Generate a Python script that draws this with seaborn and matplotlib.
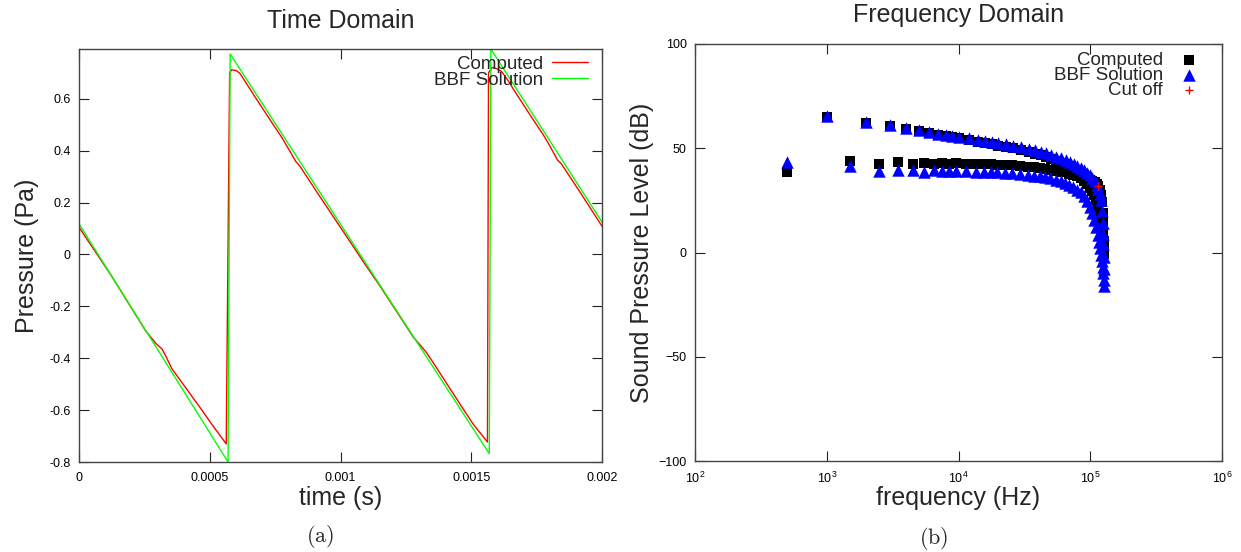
import numpy as np
import matplotlib
matplotlib.use("Agg")
import matplotlib.pyplot as plt
from matplotlib.ticker import NullLocator
import seaborn as sns

# ---- time domain: pressure (Pa) vs time (s) ----
time_comp = [0, 0.00012, 0.000256, 0.000295, 0.000318, 0.000332, 0.000355, 0.00047,
             0.000508, 0.000563, 0.000576, 0.000584, 0.000603, 0.000616, 0.00064,
             0.000667, 0.00073, 0.000775, 0.000795, 0.00083, 0.000845, 0.000922,
             0.001024, 0.0011, 0.00115, 0.001278, 0.001317, 0.00133, 0.001355,
             0.00147, 0.001508, 0.001562, 0.001566, 0.00158, 0.0016, 0.001616,
             0.00164, 0.001667, 0.00173, 0.001775, 0.001795, 0.00183, 0.001845,
             0.001922, 0.002]
pres_comp = [0.105, -0.076, -0.296, -0.344, -0.365, -0.392, -0.440, -0.600,
             -0.655, -0.730, 0.70, 0.712, 0.708, 0.697, 0.660,
             0.617, 0.520, 0.452, 0.418, 0.357, 0.340, 0.222,
             0.068, -0.047, -0.120, -0.318, -0.364, -0.380, -0.418,
             -0.597, -0.655, -0.723, 0.70, 0.721, 0.715, 0.705,
             0.672, 0.628, 0.530, 0.462, 0.428, 0.364, 0.349,
             0.231, 0.109]
time_bbf = [0, 0.00057, 0.000578, 0.001569, 0.001575, 0.002]
pres_bbf = [0.118, -0.80, 0.773, -0.768, 0.792, 0.125]

time_ticks = [0, 0.0005, 0.001, 0.0015, 0.002]
time_tick_labels = ["0", "0.0005", "0.001", "0.0015", "0.002"]
pres_ticks = [-0.8, -0.6, -0.4, -0.2, 0, 0.2, 0.4, 0.6]
pres_tick_labels = ["-0.8", "-0.6", "-0.4", "-0.2", "0", "0.2", "0.4", "0.6"]

# ---- frequency domain: SPL (dB) vs frequency (kHz) ----
freq_even = [1, 2, 3, 4, 5, 6, 7, 8, 9, 10,
             12, 14, 16, 18, 20,
             23, 26, 30, 34, 38, 42, 46, 50,
             55, 60, 65, 70, 75, 80, 85, 90, 95, 100,
             104, 108, 112, 115, 118, 120, 122, 124, 125, 126, 127, 128]
spl_bbf_even = [65.5, 62.8, 61.0, 59.6, 58.6, 57.7, 57.0, 56.5, 56.0, 55.6,
                54.8, 54.0, 53.4, 52.9, 52.4,
                51.8, 51.2, 50.4, 49.7, 49.0, 48.3, 47.6, 46.9,
                46.0, 45.2, 44.4, 43.5, 42.6, 41.6, 40.5, 39.4, 38.2, 37.0,
                35.8, 34.5, 32.5, 30.5, 28.0, 25.0, 20.0, 14.0, 9.0, 4.0, -2.0, -8.0]
spl_comp_even = [65.0, 62.2, 60.5, 59.1, 58.1, 57.2, 56.5, 55.9, 55.4, 55.0,
                 54.0, 53.2, 52.5, 51.9, 51.3,
                 50.6, 49.9, 49.0, 48.2, 47.4, 46.6, 45.8, 45.0,
                 44.0, 43.0, 42.0, 41.0, 40.0, 39.0, 38.0, 37.0, 36.0, 35.0,
                 34.4, 33.8, 33.0, 32.0, 30.0, 27.5, 24.0, 19.0, 15.0, 10.0, 5.5, 2.0]
freq_odd = [0.5, 1.5, 2.5, 3.5, 4.5, 5.5, 6.5, 7.5, 8.5, 9.5,
            11.5, 13.5, 15.5, 17.5, 19.5,
            22.5, 25.5, 29.5, 33.5, 37.5, 41.5, 45.5, 49.5,
            54.5, 59.5, 64.5, 69.5, 74.5, 79.5, 84.5, 89.5, 94.5, 99.5,
            103.5, 107.5, 111.5, 114.5, 117.5, 119.5, 121.5, 123.5, 124.5, 125.5, 126.5, 127.5]
spl_comp_odd = [38.6, 44.1, 42.6, 43.4, 42.6, 43.0, 42.6, 42.9, 42.6, 42.7,
                42.6, 42.5, 42.4, 42.3, 42.2,
                42.0, 41.8, 41.5, 41.2, 40.8, 40.4, 40.0, 39.6,
                39.2, 38.8, 38.4, 37.8, 37.2, 36.5, 35.6, 34.5, 33.0, 31.0,
                29.5, 27.5, 25.0, 22.5, 19.0, 16.0, 12.5, 8.5, 5.5, 3.0, 1.0, -0.5]
spl_bbf_odd = [43.3, 41.3, 38.9, 39.6, 39.7, 38.5, 39.7, 38.9, 39.3, 38.9,
               38.9, 38.8, 38.7, 38.6, 38.4,
               38.2, 38.0, 37.7, 37.3, 36.9, 36.5, 36.0, 35.5,
               34.9, 34.2, 33.4, 32.5, 31.4, 30.2, 28.8, 27.0, 24.8, 22.0,
               19.0, 15.5, 12.0, 8.5, 5.0, 2.0, -1.0, -4.0, -7.0, -10.0, -13.0, -16.0]
cutoff_freq = [114]
cutoff_spl = [32]
spl_ticks = [-100, -50, 0, 50, 100]

sns.set_style("ticks")
plt.rcParams["font.family"] = ["Liberation Sans", "DejaVu Sans"]
plt.rcParams["mathtext.fontset"] = "cm"

W, H = 1241, 552
fig = plt.figure(figsize=(W / 100, H / 100), dpi=100)
edge = "#444444"


def style_axes(ax):
    for sp in ax.spines.values():
        sp.set_color(edge)
        sp.set_linewidth(1.0)
    ax.tick_params(which="major", direction="in", length=7, width=0.8, color="#222222",
                   top=True, right=True, labelsize=9, labelcolor="black")
    ax.tick_params(axis="y", pad=6)
    ax.tick_params(axis="x", pad=7)


# ---- (a) time domain ----
ax1 = fig.add_axes([79 / W, 1 - 462 / H, 523 / W, 413 / H])
sns.lineplot(x=time_comp, y=pres_comp, ax=ax1, color="#ff0000", lw=1.0,
             label="Computed", sort=False, estimator=None)
sns.lineplot(x=time_bbf, y=pres_bbf, ax=ax1, color="#00ff00", lw=1.0,
             label="BBF Solution", sort=False, estimator=None)
ax1.set_xlim(0, 0.002)
ax1.set_ylim(-0.8, 0.792)
ax1.set_xticks(time_ticks)
ax1.set_xticklabels(time_tick_labels)
ax1.set_yticks(pres_ticks)
ax1.set_yticklabels(pres_tick_labels)
style_axes(ax1)
ax1.set_title("Time Domain", fontsize=18, y=1.068, va="center", pad=0)
ax1.set_xlabel("time (s)", fontsize=18, va="center")
ax1.xaxis.set_label_coords(0.5, -0.086)
ax1.set_ylabel("Pressure (Pa)", fontsize=18, va="center")
ax1.yaxis.set_label_coords(-0.1, 0.5)
ax1.legend(loc="upper right", bbox_to_anchor=(0.973, 0.984), frameon=False,
           markerfirst=False, fontsize=13.5, handlelength=1.92, handletextpad=0.48,
           labelspacing=-0.06, borderpad=0, borderaxespad=0)

# ---- (b) frequency domain ----
ax2 = fig.add_axes([695 / W, 1 - 461 / H, 527 / W, 417 / H])
comp_f = np.array(freq_odd + freq_even) * 1000
comp_db = spl_comp_odd + spl_comp_even
bbf_f = np.array(freq_odd + freq_even) * 1000
bbf_db = spl_bbf_odd + spl_bbf_even
sns.scatterplot(x=comp_f, y=comp_db, ax=ax2, marker="s", color="black", s=50,
                linewidth=0, label="Computed")
sns.scatterplot(x=bbf_f, y=bbf_db, ax=ax2, marker="^", color="#0000ff", s=80,
                linewidth=0, label="BBF Solution")
sns.scatterplot(x=np.array(cutoff_freq) * 1000, y=cutoff_spl, ax=ax2, marker="+",
                color="#ff0000", s=40, linewidth=1.0, label="Cut off")
ax2.set_xscale("log")
ax2.set_xlim(1e2, 1e6)
ax2.set_ylim(-100, 100)
ax2.set_yticks(spl_ticks)
ax2.xaxis.set_minor_locator(NullLocator())
style_axes(ax2)
ax2.set_title("Frequency Domain", fontsize=18, y=1.07, va="center", pad=0)
ax2.set_xlabel("frequency (Hz)", fontsize=18, va="center")
ax2.xaxis.set_label_coords(0.5, -0.088)
ax2.set_ylabel("Sound Pressure Level (dB)", fontsize=18, va="center")
ax2.yaxis.set_label_coords(-0.1, 0.5)
ax2.legend(loc="upper right", bbox_to_anchor=(0.955, 0.982), frameon=False,
           markerfirst=False, fontsize=13.5, handlelength=1.0, handletextpad=0.89,
           labelspacing=-0.11, borderpad=0, borderaxespad=0)

# captions
fig.text(320 / W, 1 - 536 / H, r"$(\mathrm{a})$", ha="center", va="center", fontsize=16)
fig.text(934 / W, 1 - 538 / H, r"$(\mathrm{b})$", ha="center", va="center", fontsize=16)

fig.savefig("out.png", dpi=100)
